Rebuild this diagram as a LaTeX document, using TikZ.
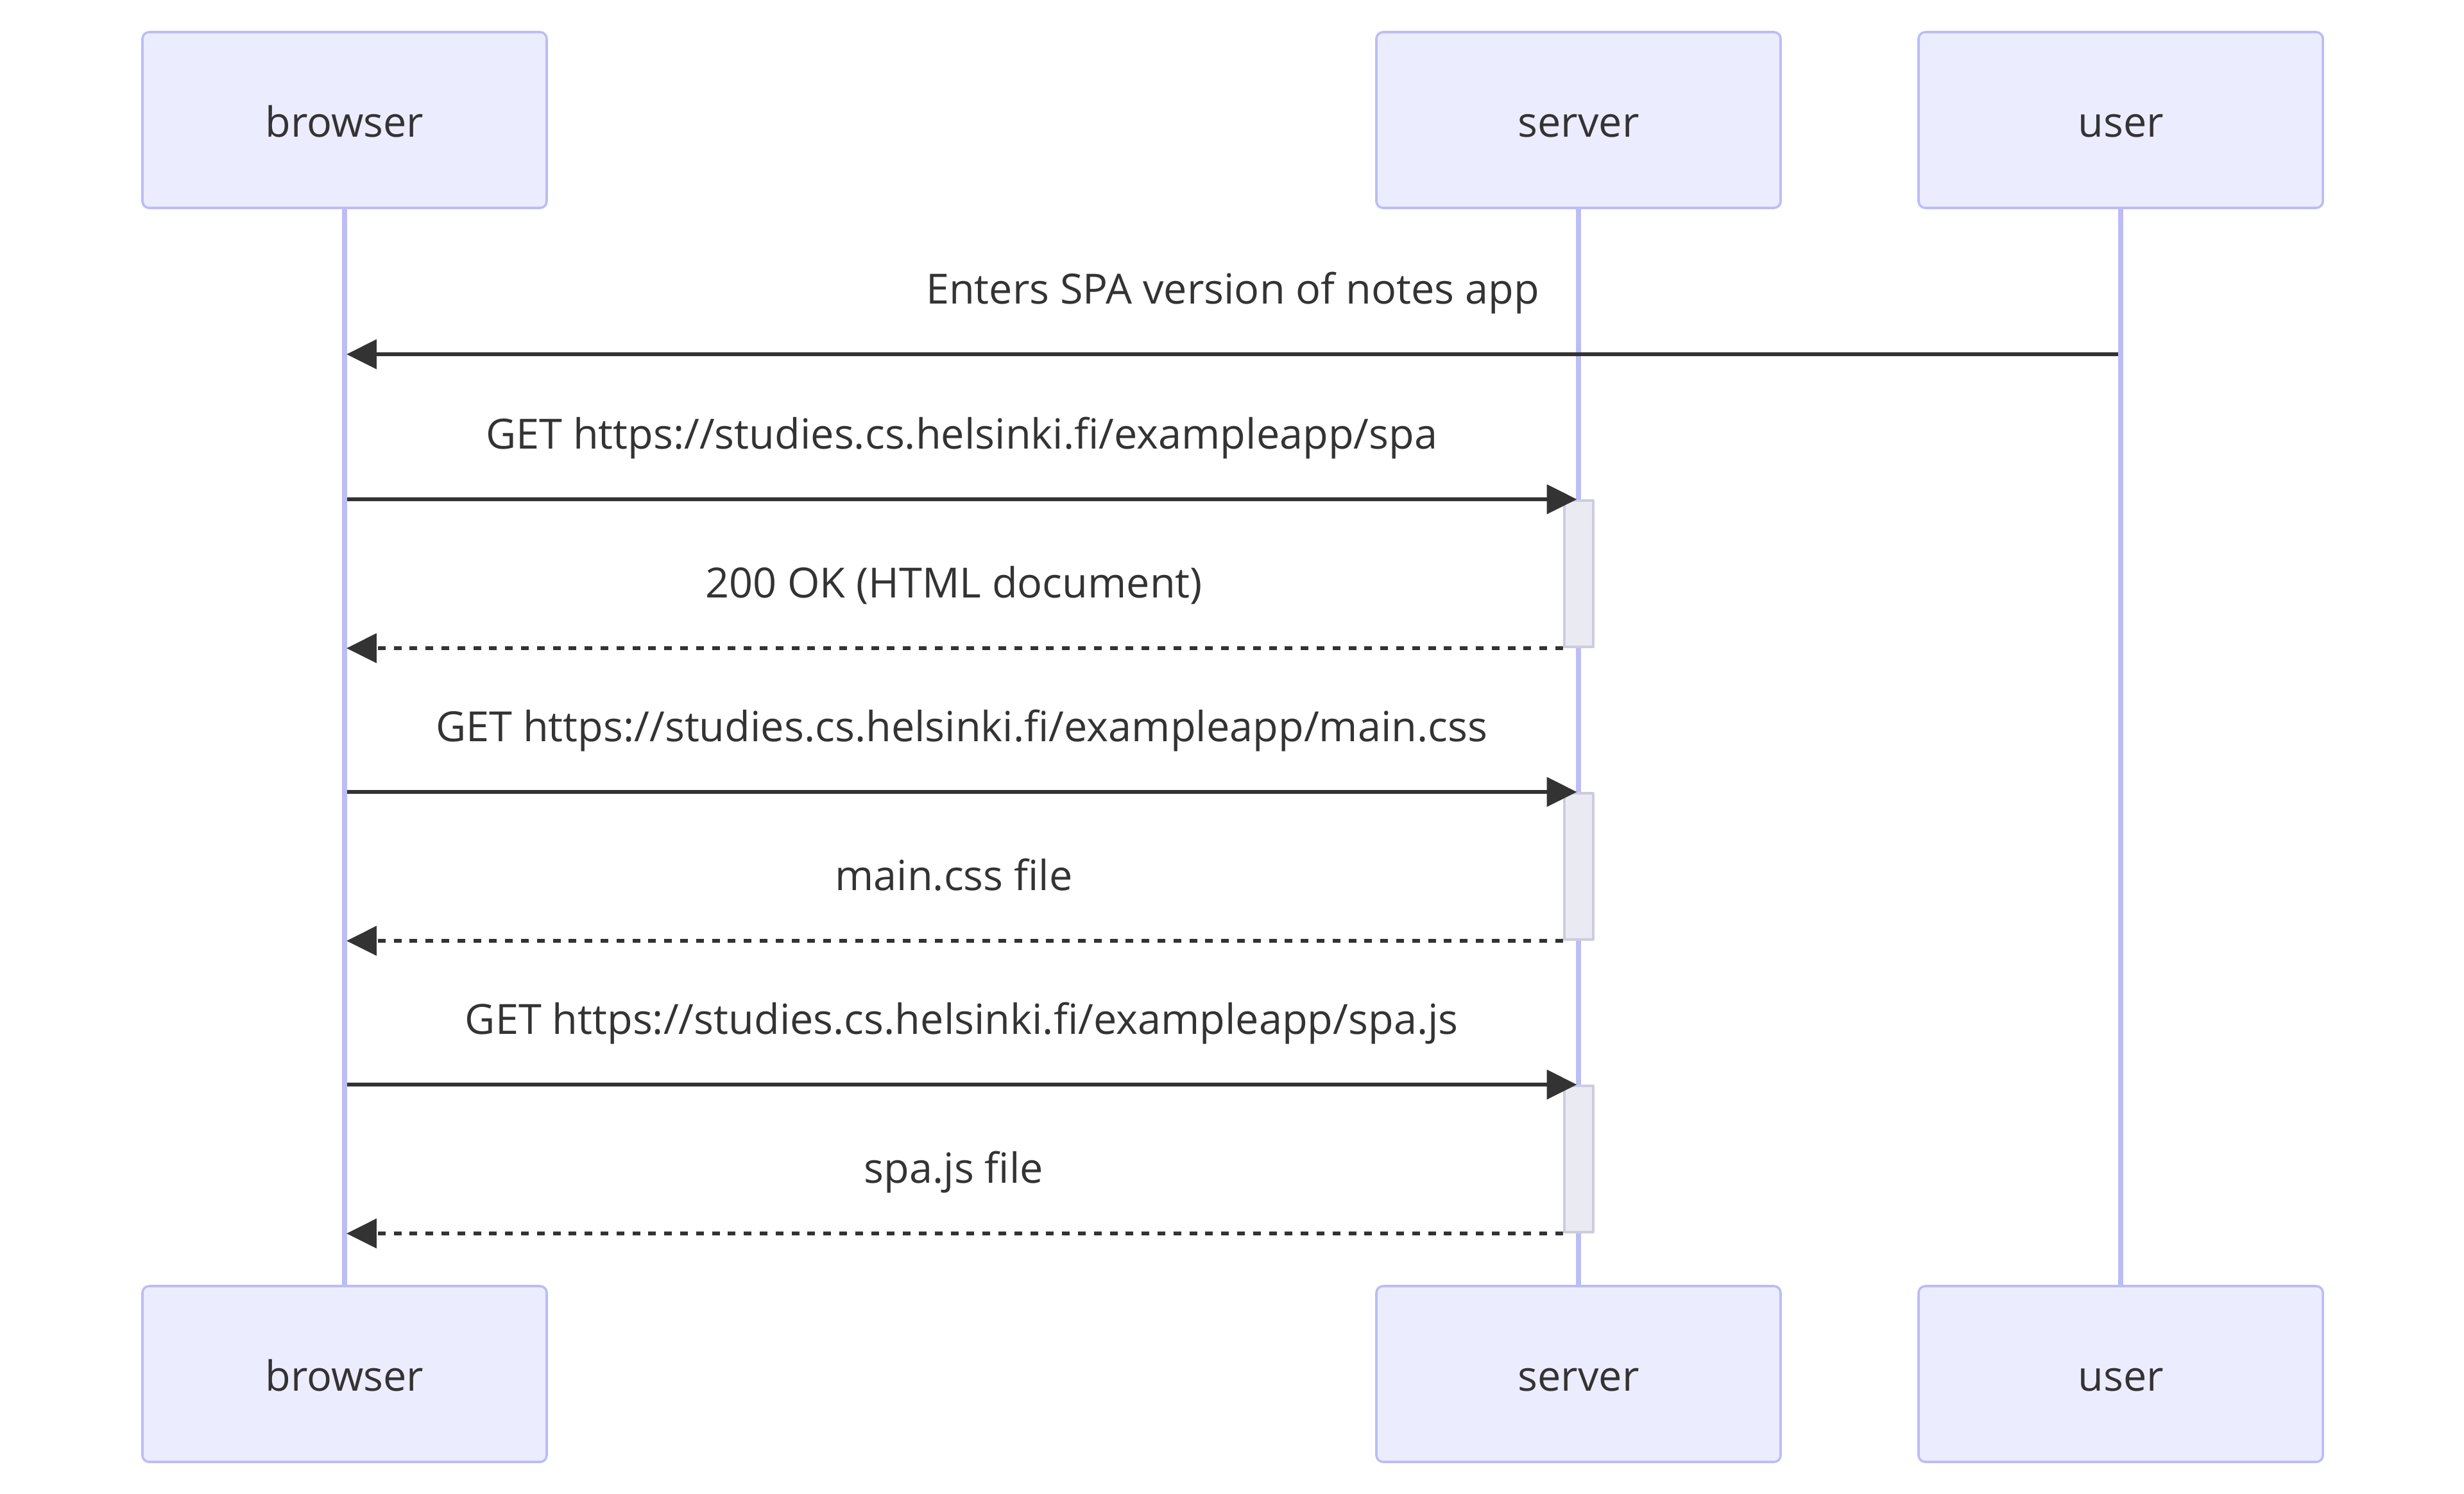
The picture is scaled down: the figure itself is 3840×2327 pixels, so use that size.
\documentclass[tikz,border=0pt]{standalone}
\usepackage{fontspec}
\setmainfont{Open Sans}
\usepackage{pgf,tikz}
\usetikzlibrary{arrows.meta}
\definecolor{ececff}{rgb}{0.9255,0.9255,1.0}
\definecolor{bcbcf7}{rgb}{0.7373,0.7373,0.9686}
\definecolor{eaeaf2}{rgb}{0.9176,0.9176,0.949}
\definecolor{ccccde}{rgb}{0.8,0.8,0.8706}
\definecolor{qqqqqq}{rgb}{0.2,0.2,0.2}

\begin{document}
\begin{tikzpicture}[line cap=butt,line join=round,>={Triangle[length=11.7pt,width=11.2pt]},
x=0.25pt,y=-0.25pt,
actor/.style={draw=bcbcf7,fill=ececff,line width=0.9pt,rounded corners=2.6pt,minimum width=157.5pt,minimum height=68.5pt,inner sep=0pt,text height=13pt,text depth=0pt,text=qqqqqq},
life/.style={draw=bcbcf7,line width=2pt},
act/.style={draw=ccccde,fill=eaeaf2,line width=1pt,minimum width=11.25pt,minimum height=57pt,inner sep=0pt},
msg/.style={->,color=qqqqqq,line width=1.7pt,shorten <=1pt,shorten >=0.75pt},
ret/.style={msg,shorten <=0pt,dash pattern=on 3pt off 3.2pt},
lbl/.style={midway,anchor=base,yshift=19.75pt,text=qqqqqq}]
\clip(0,0) rectangle (3840,2327);
\fontsize{16.2}{19}\selectfont
\node[actor] (browser) at (537,187) {browser};
\node[actor] (server) at (2460,187) {server};
\node[actor] (user) at (3305,187) {user};
\node[actor] (browser2) at (537,2141) {browser};
\node[actor] (server2) at (2460,2141) {server};
\node[actor] (user2) at (3305,2141) {user};
\draw[life] (browser) -- (browser2);
\draw[life] (server) -- (server2);
\draw[life] (user) -- (user2);
\node[act] (spa) at (2460.5,894) {};
\node[act] (css) at (2460.5,1350) {};
\node[act] (js) at (2460.5,1806) {};
\draw[msg] (user |- 0,552) -- (browser |- 0,552) node[lbl] {Enters SPA version of notes app};
\draw[msg] (browser |- spa.north) -- (spa.north) node[lbl] {GET https://studies.cs.helsinki.fi/exampleapp/spa};
\draw[ret] (spa.south west) -- (browser |- spa.south) node[lbl] {200 OK (HTML document)};
\draw[msg] (browser |- css.north) -- (css.north) node[lbl] {GET https://studies.cs.helsinki.fi/exampleapp/main.css};
\draw[ret] (css.south west) -- (browser |- css.south) node[lbl] {main.css file};
\draw[msg] (browser |- js.north) -- (js.north) node[lbl] {GET https://studies.cs.helsinki.fi/exampleapp/spa.js};
\draw[ret] (js.south west) -- (browser |- js.south) node[lbl] {spa.js file};
\end{tikzpicture}
\end{document}
